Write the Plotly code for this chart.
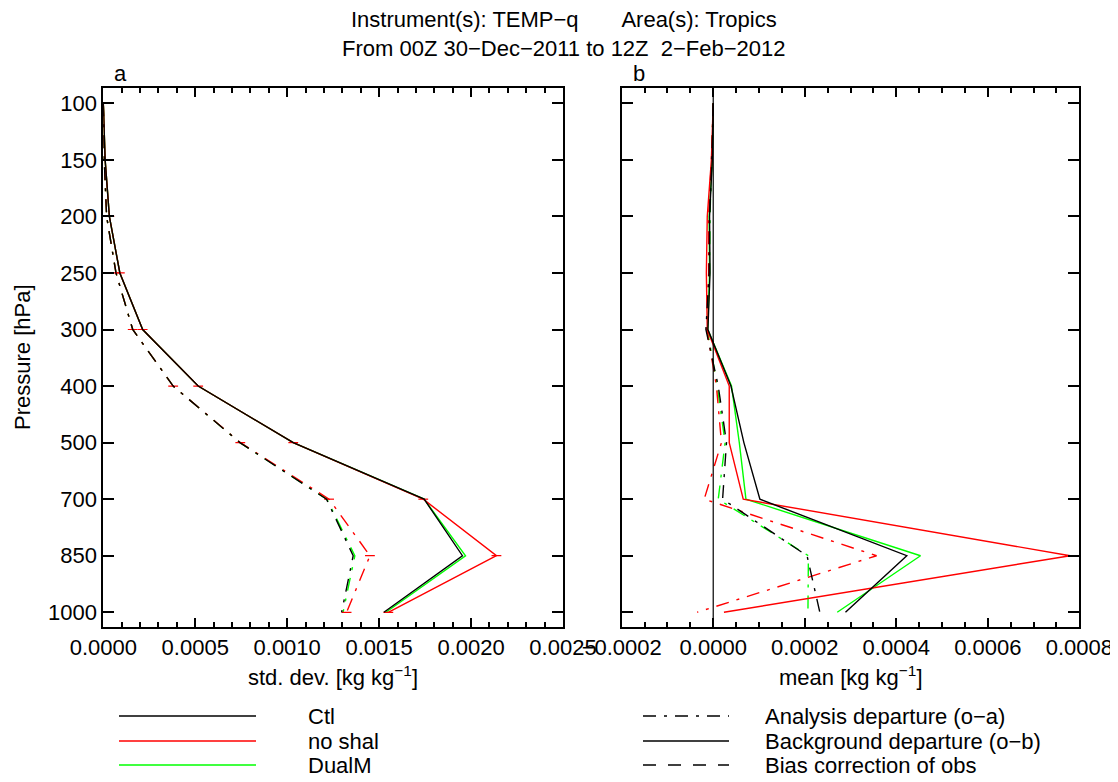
import plotly.graph_objects as go

# ---------------- data ----------------
levels = [100, 150, 200, 250, 300, 400, 500, 700, 850, 1000]
level_labels = [str(v) for v in levels]
experiments = ["Ctl", "no shal", "DualM"]
exp_colors = ["#000000", "#ff0000", "#00ff00"]

# std. dev. (panel a)
sd_ob_ctl = [0.0, 0.00001, 0.000033, 0.00009, 0.000214, 0.000516, 0.001033, 0.001745, 0.001953, 0.001526]
sd_ob_noshal = [0.0, 0.00001, 0.000033, 0.00009, 0.000214, 0.000516, 0.001033, 0.001740, 0.002138, 0.001550]
sd_ob_dualm = [0.0, 0.00001, 0.000033, 0.00009, 0.000214, 0.000516, 0.001033, 0.001745, 0.001970, 0.001537]
sd_oa_ctl = [0.0, 0.000005, 0.000018, 0.000069, 0.00016, 0.00038, 0.000743, 0.001214, 0.001359, 0.001296]
sd_oa_noshal = [0.0, 0.000005, 0.000018, 0.000069, 0.00016, 0.00038, 0.000745, 0.001228, 0.001450, 0.001323]
sd_oa_dualm = [0.0, 0.000005, 0.000018, 0.000069, 0.00016, 0.00038, 0.000743, 0.001216, 0.001368, 0.001304]

# mean (panel b)
mn_ob_ctl = [0.0, -0.000002, -0.000008, -0.000007, -0.0000116, 0.0000387, 0.000067, 0.000102, 0.000423, 0.000289]
mn_ob_noshal = [0.0, -0.000004, -0.000013, -0.000015, -0.000013, 0.000035, 0.000035, 0.0000656, 0.00078, 0.0000234]
mn_ob_dualm = [0.0, -0.000002, -0.000009, -0.000008, -0.000012, 0.00004, 0.000057, 0.0000715, 0.000453, 0.000271]
mn_oa_ctl = [0.0, -0.000003, -0.000008, -0.000009, -0.000016, 0.000011, 0.000029, 0.0000205, 0.000205, 0.000233]
mn_oa_noshal = [0.0, -0.000004, -0.00001, -0.00001, -0.000014, 0.000007, 0.000018, -0.0000197, 0.000357, -0.000035]
mn_oa_dualm = [0.0, -0.000003, -0.000007, -0.000008, -0.000013, 0.0000087, 0.000026, 0.000011, 0.000208, 0.000207]

sd_ob = [sd_ob_ctl, sd_ob_noshal, sd_ob_dualm]
sd_oa = [sd_oa_ctl, sd_oa_noshal, sd_oa_dualm]
mn_ob = [mn_ob_ctl, mn_ob_noshal, mn_ob_dualm]
mn_oa = [mn_oa_ctl, mn_oa_noshal, mn_oa_dualm]

left_ticks = [0.0, 0.0005, 0.0010, 0.0015, 0.0020, 0.0025]
right_ticks = [-0.0002, 0.0, 0.0002, 0.0004, 0.0006, 0.0008]

# ---------------- figure ----------------
FONT = "Liberation Sans, Arial, Helvetica, sans-serif"
OX, OY = 8, 8            # page body margin
W, H = 1118 - 2 * OX, 782 - 2 * OY
DASHDOT = "13px,8px,3px,8px"
DASHED = "13px,12px"
FS = 22

def px(x):
    return (x - OX) / W

def py(y):
    return 1 - (y - OY) / H

fig = go.Figure()
idx = list(range(len(levels)))

order = [2, 1, 0]
for k in order:
    for xs, dash in ((sd_oa[k], DASHDOT), (sd_ob[k], "solid")):
        red = exp_colors[k] == "#ff0000"
        fig.add_trace(go.Scatter(x=xs, y=idx, mode="lines+markers" if red else "lines",
                                 xaxis="x", yaxis="y",
                                 line=dict(color=exp_colors[k], width=1.4, dash=dash),
                                 marker=dict(symbol="line-ew-open", size=7,
                                             line=dict(color=exp_colors[k], width=1.2)),
                                 showlegend=False, hoverinfo="skip"))
    for xs, dash in ((mn_oa[k], DASHDOT), (mn_ob[k], "solid")):
        fig.add_trace(go.Scatter(x=xs, y=idx, mode="lines", xaxis="x2", yaxis="y2",
                                 line=dict(color=exp_colors[k], width=1.4, dash=dash),
                                 showlegend=False, hoverinfo="skip"))

ydom = [py(626.7), py(88.3)]
xdom1 = [px(103.3), px(563.0)]
xdom2 = [px(621.7), px(1079.3)]

yrange = [9.255, -0.265]

common_x = dict(showline=True, linewidth=2, linecolor="black", mirror="ticks",
                ticks="inside", ticklen=9, tickwidth=2, tickcolor="black",
                showgrid=False, zeroline=False, automargin=False,
                ticklabeloverflow="allow",
                tickfont=dict(family=FONT, size=FS, color="black"))
common_y = dict(showline=True, linewidth=2, linecolor="black", mirror="ticks",
                ticks="inside", ticklen=11, tickwidth=2, tickcolor="black",
                showgrid=False, zeroline=False, range=yrange, automargin=False,
                tickvals=idx, ticktext=level_labels,
                tickfont=dict(family=FONT, size=FS, color="black"),
                domain=ydom)

fig.update_layout(
    template="none",
    width=W, height=H,
    margin=dict(l=0, r=0, t=0, b=0, pad=0),
    paper_bgcolor="white", plot_bgcolor="white",
    showlegend=False,
    xaxis=dict(domain=xdom1, range=[0, 0.0025], tickvals=left_ticks, tickformat=".4f",
               minor=dict(ticks="inside", dtick=0.0001, ticklen=5, tickwidth=2, tickcolor="black", showgrid=False),
               anchor="y", **common_x),
    yaxis=dict(anchor="x", **common_y),
    xaxis2=dict(domain=xdom2, range=[-0.0002, 0.0008], tickvals=right_ticks, tickformat=".4f",
                minor=dict(ticks="inside", dtick=0.00005, tick0=0, ticklen=5, tickwidth=2, tickcolor="black", showgrid=False),
                anchor="y2", **common_x),
    yaxis2=dict(anchor="x2", showticklabels=False, **common_y),
)

fig.add_shape(type="line", xref="x2", yref="y2 domain", x0=0, x1=0, y0=0, y1=1,
              line=dict(color="black", width=1.2), layer="above")

def txt(x, y, s, size=FS, xanchor="center", yanchor="middle", angle=0):
    fig.add_annotation(x=px(x), y=py(y), xref="paper", yref="paper", text=s,
                       showarrow=False, xanchor=xanchor, yanchor=yanchor, textangle=angle,
                       font=dict(family=FONT, size=size, color="black"))

NB = "\u00a0"
M = "\u2212"
txt(564, 20, "Instrument(s): TEMP" + M + "q" + NB * 7 + "Area(s): Tropics")
txt(564, 48, "From 00Z 30" + M + "Dec" + M + "2011 to 12Z" + NB * 2 + "2" + M + "Feb" + M + "2012")
txt(112, 73, "a", xanchor="left")
txt(631, 73, "b", xanchor="left")
txt(22, 357, "Pressure [hPa]", angle=-90)
txt(333, 676, "std. dev. [kg kg<sup>" + M + "1</sup>]")
txt(851, 676, "mean [kg kg<sup>" + M + "1</sup>]")

leg_y = [716, 741, 765]
for k, name in enumerate(experiments):
    fig.add_shape(type="line", xref="paper", yref="paper",
                  x0=px(119), x1=px(256), y0=py(leg_y[k]), y1=py(leg_y[k]),
                  line=dict(color=exp_colors[k], width=1.5))
    txt(306, leg_y[k], name, xanchor="left")

styles = [("Analysis departure (o" + M + "a)", DASHDOT),
          ("Background departure (o" + M + "b)", "solid"),
          ("Bias correction of obs", DASHED)]
for k, (name, dash) in enumerate(styles):
    fig.add_shape(type="line", xref="paper", yref="paper",
                  x0=px(643), x1=px(729), y0=py(leg_y[k]), y1=py(leg_y[k]),
                  line=dict(color="black", width=1.3, dash=dash))
    txt(763, leg_y[k], name, xanchor="left")

fig.write_html("out.html")
